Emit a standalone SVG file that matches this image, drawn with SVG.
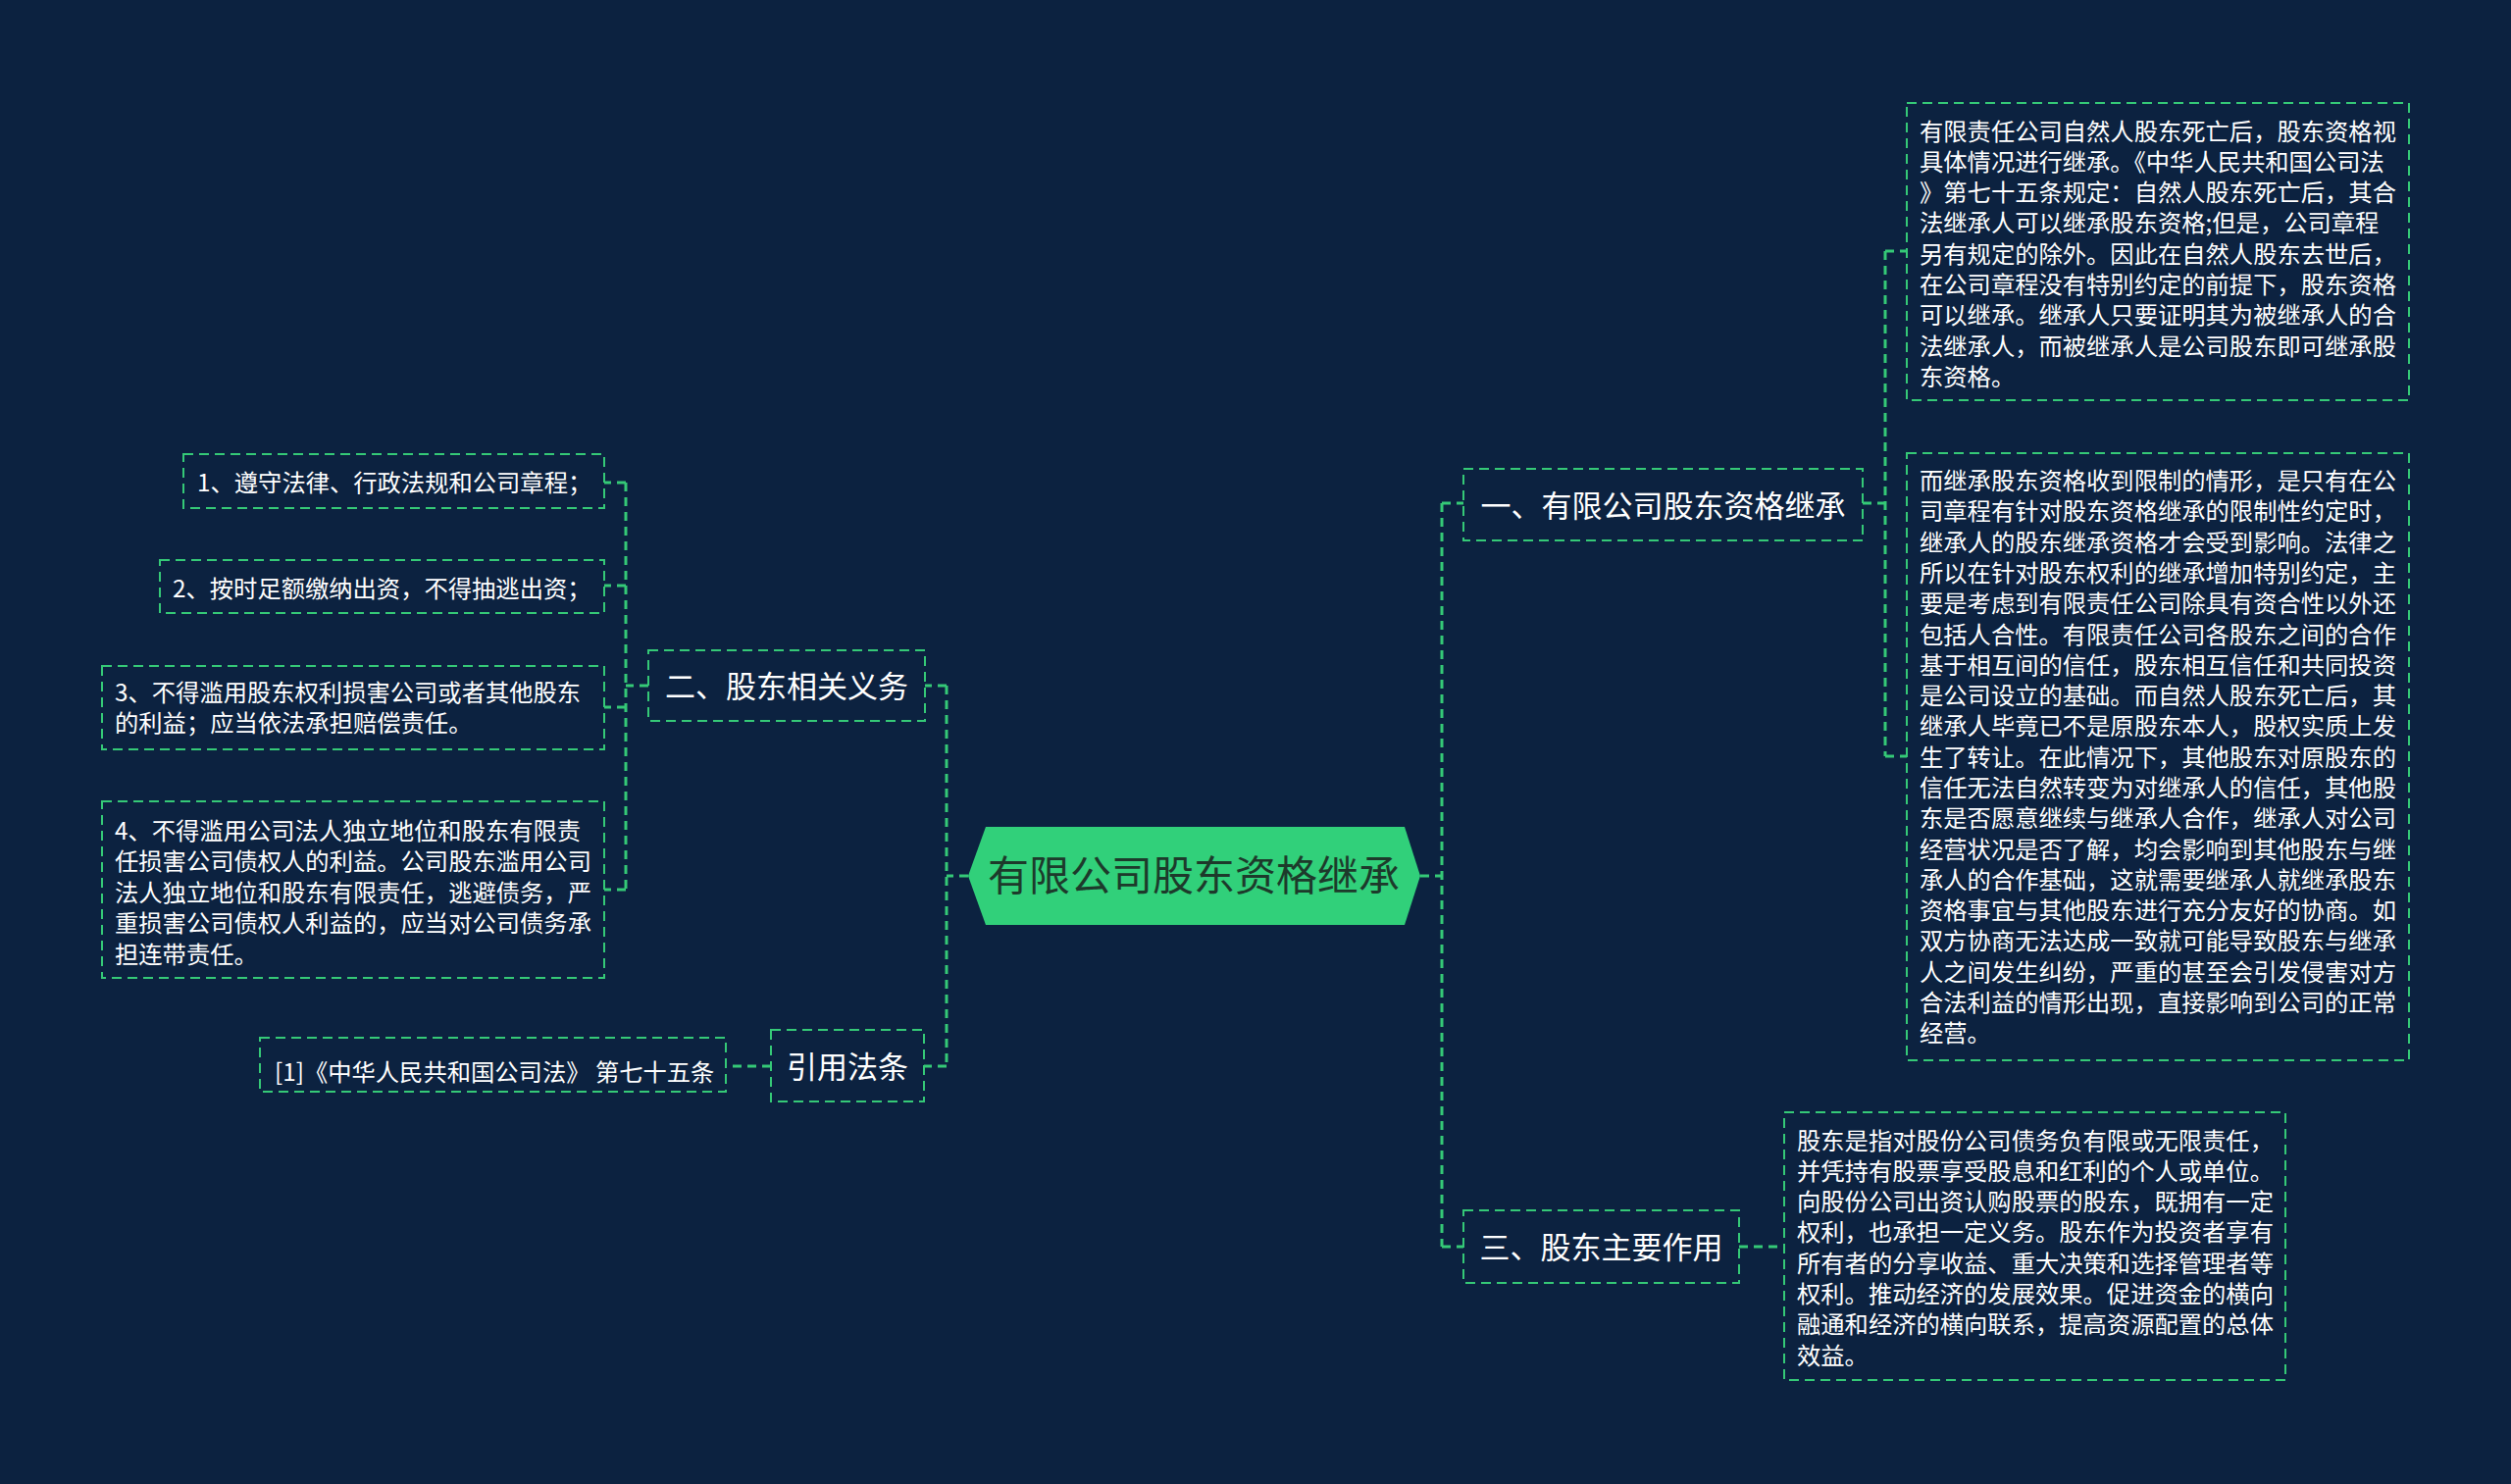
<svg xmlns="http://www.w3.org/2000/svg" width="2560" height="1513" viewBox="0 0 2560 1513">
<style>
.bg{fill:#0c2240}
.conn{fill:none;stroke:#35c977;stroke-width:3;stroke-dasharray:9 6}
.box{fill:none;stroke:#35c977;stroke-width:2;stroke-dasharray:10 6}
.t{font-family:"Noto Sans CJK SC","Noto Sans",sans-serif;fill:#ffffff}
.node{font-size:31px;text-anchor:middle}
.body{font-size:24.3px}
.root{font-family:"Noto Sans CJK SC","Noto Sans",sans-serif;font-size:42px;fill:#1d3a2b;text-anchor:middle}
</style>
<rect class="bg" x="0" y="0" width="2560" height="1513"/>
<g id="connectors">
<path class="conn" d="M987,893 H965"/>
<path class="conn" d="M965,699 V1087"/>
<path class="conn" d="M965,699 H943"/>
<path class="conn" d="M965,1087 H942"/>
<path class="conn" d="M661,699 H638"/>
<path class="conn" d="M638,492 V907"/>
<path class="conn" d="M638,492 H616"/>
<path class="conn" d="M638,597 H616"/>
<path class="conn" d="M638,721 H616"/>
<path class="conn" d="M638,907 H616"/>
<path class="conn" d="M786,1087 H740"/>
<path class="conn" d="M1448,893 H1470"/>
<path class="conn" d="M1470,513 V1271"/>
<path class="conn" d="M1470,513 H1492"/>
<path class="conn" d="M1470,1271 H1492"/>
<path class="conn" d="M1899,513 H1922"/>
<path class="conn" d="M1922,256 V771"/>
<path class="conn" d="M1922,256 H1944"/>
<path class="conn" d="M1922,771 H1944"/>
<path class="conn" d="M1773,1271 H1819"/>
</g>
<g id="root">
<polygon points="987,893 1005,843 1432,843 1448,893 1432,943 1005,943" fill="#31d07a"/>
<text class="root" x="1217" y="908">有限公司股东资格继承</text>
</g>
<g id="n1">
<rect class="box" x="1492" y="478" width="407" height="73"/>
<text class="t node" x="1695.5" y="527">一、有限公司股东资格继承</text>
</g>
<g id="n1a">
<rect class="box" x="1944" y="105" width="512" height="303"/>
<text class="t body" x="1957" y="142.5">
<tspan x="1957">有限责任公司自然人股东死亡后，股东资格视</tspan>
<tspan x="1957" dy="31.3">具体情况进行继承。《中华人民共和国公司法</tspan>
<tspan x="1957" dy="31.3">》第七十五条规定：自然人股东死亡后，其合</tspan>
<tspan x="1957" dy="31.3">法继承人可以继承股东资格;但是，公司章程</tspan>
<tspan x="1957" dy="31.3">另有规定的除外。因此在自然人股东去世后，</tspan>
<tspan x="1957" dy="31.3">在公司章程没有特别约定的前提下，股东资格</tspan>
<tspan x="1957" dy="31.3">可以继承。继承人只要证明其为被继承人的合</tspan>
<tspan x="1957" dy="31.3">法继承人，而被继承人是公司股东即可继承股</tspan>
<tspan x="1957" dy="31.3">东资格。</tspan>
</text>
</g>
<g id="n1b">
<rect class="box" x="1944" y="462" width="512" height="619"/>
<text class="t body" x="1957" y="499">
<tspan x="1957">而继承股东资格收到限制的情形，是只有在公</tspan>
<tspan x="1957" dy="31.3">司章程有针对股东资格继承的限制性约定时，</tspan>
<tspan x="1957" dy="31.3">继承人的股东继承资格才会受到影响。法律之</tspan>
<tspan x="1957" dy="31.3">所以在针对股东权利的继承增加特别约定，主</tspan>
<tspan x="1957" dy="31.3">要是考虑到有限责任公司除具有资合性以外还</tspan>
<tspan x="1957" dy="31.3">包括人合性。有限责任公司各股东之间的合作</tspan>
<tspan x="1957" dy="31.3">基于相互间的信任，股东相互信任和共同投资</tspan>
<tspan x="1957" dy="31.3">是公司设立的基础。而自然人股东死亡后，其</tspan>
<tspan x="1957" dy="31.3">继承人毕竟已不是原股东本人，股权实质上发</tspan>
<tspan x="1957" dy="31.3">生了转让。在此情况下，其他股东对原股东的</tspan>
<tspan x="1957" dy="31.3">信任无法自然转变为对继承人的信任，其他股</tspan>
<tspan x="1957" dy="31.3">东是否愿意继续与继承人合作，继承人对公司</tspan>
<tspan x="1957" dy="31.3">经营状况是否了解，均会影响到其他股东与继</tspan>
<tspan x="1957" dy="31.3">承人的合作基础，这就需要继承人就继承股东</tspan>
<tspan x="1957" dy="31.3">资格事宜与其他股东进行充分友好的协商。如</tspan>
<tspan x="1957" dy="31.3">双方协商无法达成一致就可能导致股东与继承</tspan>
<tspan x="1957" dy="31.3">人之间发生纠纷，严重的甚至会引发侵害对方</tspan>
<tspan x="1957" dy="31.3">合法利益的情形出现，直接影响到公司的正常</tspan>
<tspan x="1957" dy="31.3">经营。</tspan>
</text>
</g>
<g id="n3">
<rect class="box" x="1492" y="1234" width="281" height="74"/>
<text class="t node" x="1632.5" y="1283">三、股东主要作用</text>
</g>
<g id="n3a">
<rect class="box" x="1819" y="1134" width="511" height="273"/>
<text class="t body" x="1832" y="1171.5">
<tspan x="1832">股东是指对股份公司债务负有限或无限责任，</tspan>
<tspan x="1832" dy="31.3">并凭持有股票享受股息和红利的个人或单位。</tspan>
<tspan x="1832" dy="31.3">向股份公司出资认购股票的股东，既拥有一定</tspan>
<tspan x="1832" dy="31.3">权利，也承担一定义务。股东作为投资者享有</tspan>
<tspan x="1832" dy="31.3">所有者的分享收益、重大决策和选择管理者等</tspan>
<tspan x="1832" dy="31.3">权利。推动经济的发展效果。促进资金的横向</tspan>
<tspan x="1832" dy="31.3">融通和经济的横向联系，提高资源配置的总体</tspan>
<tspan x="1832" dy="31.3">效益。</tspan>
</text>
</g>
<g id="n2">
<rect class="box" x="661" y="663" width="282" height="72"/>
<text class="t node" x="802" y="711">二、股东相关义务</text>
</g>
<g id="n2a">
<rect class="box" x="187" y="463" width="429" height="55"/>
<text class="t body" x="201" y="500.5">1、遵守法律、行政法规和公司章程；</text>
</g>
<g id="n2b">
<rect class="box" x="163" y="571" width="453" height="54"/>
<text class="t body" x="176" y="608.5">2、按时足额缴纳出资，不得抽逃出资；</text>
</g>
<g id="n2c">
<rect class="box" x="104" y="679" width="512" height="85"/>
<text class="t body" x="117" y="714.5">
<tspan x="117">3、不得滥用股东权利损害公司或者其他股东</tspan>
<tspan x="117" dy="31">的利益；应当依法承担赔偿责任。</tspan>
</text>
</g>
<g id="n2d">
<rect class="box" x="104" y="817" width="512" height="180"/>
<text class="t body" x="117" y="855.5">
<tspan x="117">4、不得滥用公司法人独立地位和股东有限责</tspan>
<tspan x="117" dy="31.5">任损害公司债权人的利益。公司股东滥用公司</tspan>
<tspan x="117" dy="31.5">法人独立地位和股东有限责任，逃避债务，严</tspan>
<tspan x="117" dy="31.5">重损害公司债权人利益的，应当对公司债务承</tspan>
<tspan x="117" dy="31.5">担连带责任。</tspan>
</text>
</g>
<g id="n4">
<rect class="box" x="786" y="1050" width="156" height="73"/>
<text class="t node" x="864" y="1099">引用法条</text>
</g>
<g id="n4a">
<rect class="box" x="265" y="1058" width="475" height="55"/>
<text class="t body" x="280" y="1101.5">[1]《中华人民共和国公司法》 第七十五条</text>
</g>
</svg>
